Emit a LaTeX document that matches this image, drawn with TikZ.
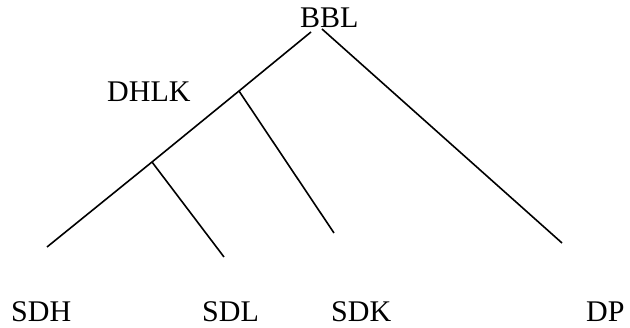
\documentclass[tikz,border=0pt]{standalone}
\usepackage{fontspec}
\setmainfont{Liberation Serif}
\begin{document}
\begin{tikzpicture}[x=1pt,y=-1pt,
  lbl/.style={anchor=base west,inner sep=0pt,font=\fontsize{30}{33}\selectfont},
  edge/.style={line width=1.6pt}]
\useasboundingbox (0,0) rectangle (630,328);
\node[lbl] (bbl) at (300,28) {BBL};
\node[lbl] (dhlk) at (107,102) {DHLK};
\node[lbl] (sdh) at (11,322) {SDH};
\node[lbl] (sdl) at (202,322) {SDL};
\node[lbl] (sdk) at (331,322) {SDK};
\node[lbl] (dp) at (586,322) {DP};
\coordinate (tl) at (311,32);
\coordinate (tr) at (322,29);
\coordinate (j1) at (239,91);
\coordinate (j2) at (152,162);
\coordinate (le) at (47,247);
\coordinate (e1) at (334,233);
\coordinate (e2) at (224,257);
\coordinate (re) at (562,243);
\draw[edge] (tl) -- (j1) -- (j2) -- (le);
\draw[edge] (j1) -- (e1);
\draw[edge] (j2) -- (e2);
\draw[edge] (tr) -- (re);
\end{tikzpicture}
\end{document}
